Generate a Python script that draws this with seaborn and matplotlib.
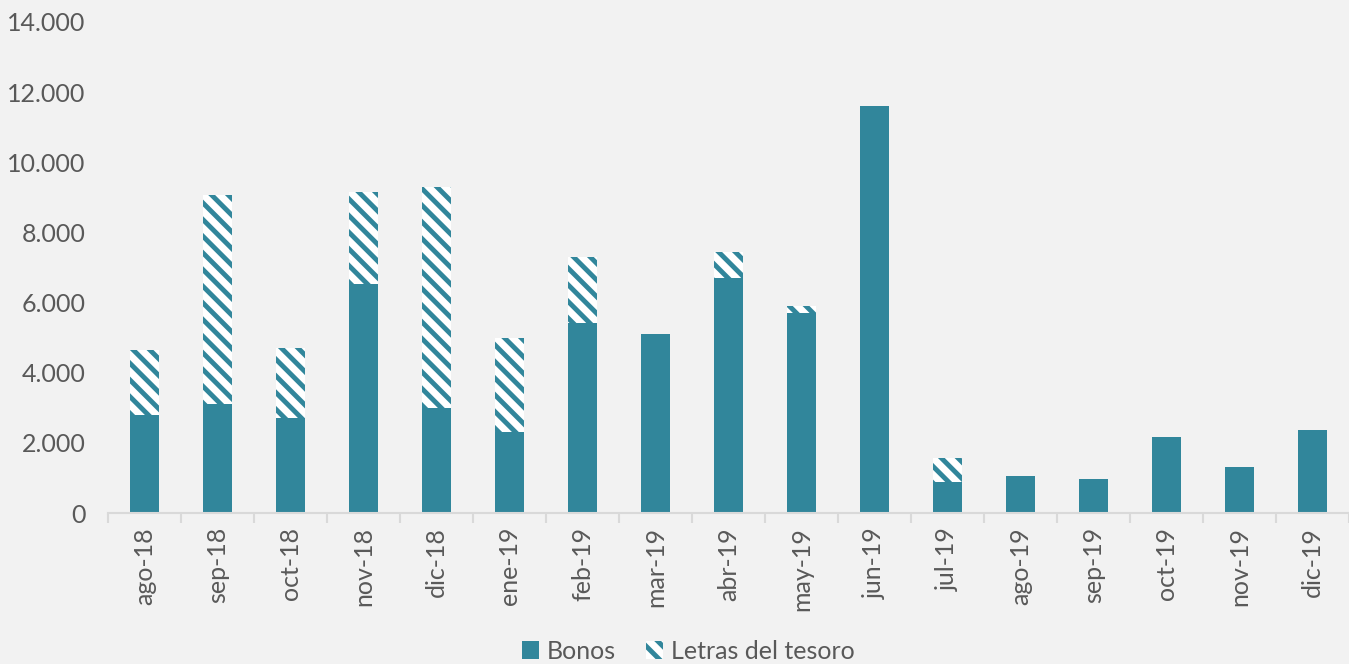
import seaborn as sns
import matplotlib.pyplot as plt
import matplotlib.ticker as mticker
from matplotlib.patches import Patch
import pandas as pd
import numpy as np

months = ['ago-18', 'sep-18', 'oct-18', 'nov-18', 'dic-18', 'ene-19', 'feb-19', 'mar-19', 'abr-19',
          'may-19', 'jun-19', 'jul-19', 'ago-19', 'sep-19', 'oct-19', 'nov-19', 'dic-19']
bonos = [2790, 3100, 2710, 6530, 3000, 2310, 5420, 5100, 6700, 5700, 11600, 880, 1050, 970, 2170, 1310, 2370]
letras = [1860, 5970, 1990, 2620, 6300, 2680, 1880, 0, 740, 200, 0, 690, 0, 0, 0, 0, 0]

teal = '#31869B'
grey = '#595959'
bg = '#F2F2F2'

df = pd.DataFrame({'mes': months, 'Bonos': bonos, 'Letras': letras})
df['Total'] = df['Bonos'] + df['Letras']

sns.set_style('white')
plt.rcParams['font.family'] = ['Lato', 'DejaVu Sans']
plt.rcParams['hatch.linewidth'] = 3.5

fig = plt.figure(figsize=(13.49, 6.64), dpi=100, facecolor=bg)
ax = fig.add_axes([0.080, 0.2274, 0.92, 0.7396], facecolor=bg)

# stacked: total bar hatched, bonos drawn on top
sns.barplot(data=df, x='mes', y='Total', ax=ax, color='white', width=0.39,
            hatch='\\\\', edgecolor=teal, linewidth=0, saturation=1)
sns.barplot(data=df, x='mes', y='Bonos', ax=ax, color=teal, width=0.39,
            linewidth=0, saturation=1)
for p in ax.patches[:len(months)]:
    p.set_facecolor('white')
    p.set_edgecolor(teal)
    p.set_hatch('\\\\')

ax.set_xlim(-0.5, len(months) - 0.5)
ax.set_ylim(0, 14000)
ax.yaxis.set_major_locator(mticker.MultipleLocator(2000))
ax.yaxis.set_major_formatter(mticker.FuncFormatter(lambda v, p: f'{int(v):,}'.replace(',', '.')))
ax.set_xlabel('')
ax.set_ylabel('')

for s in ['top', 'right', 'left']:
    ax.spines[s].set_visible(False)
ax.spines['bottom'].set_color('#D9D9D9')
ax.spines['bottom'].set_linewidth(1.5)

ax.set_xticks(np.arange(len(months)))
ax.set_xticklabels(months, rotation=90, fontsize=18, color=grey)
ax.set_xticks(np.arange(len(months) + 1) - 0.5, minor=True)
ax.tick_params(axis='x', which='major', length=0, pad=10)
ax.tick_params(axis='x', which='minor', length=7, width=1.5, color='#D9D9D9', bottom=True)
ax.tick_params(axis='y', length=0, labelsize=18, labelcolor=grey, pad=16)

handles = [Patch(facecolor=teal, edgecolor='none', label='Bonos'),
           Patch(facecolor='white', edgecolor=teal, hatch='\\\\', linewidth=0, label='Letras del tesoro')]
fig.legend(handles=handles, loc='lower center', bbox_to_anchor=(0.51, -0.032), ncol=2, frameon=False,
           fontsize=18, labelcolor=grey, handlelength=0.7, handleheight=0.7, handletextpad=0.3,
           columnspacing=1.2)

fig.savefig('out.png', dpi=100, facecolor=bg)
